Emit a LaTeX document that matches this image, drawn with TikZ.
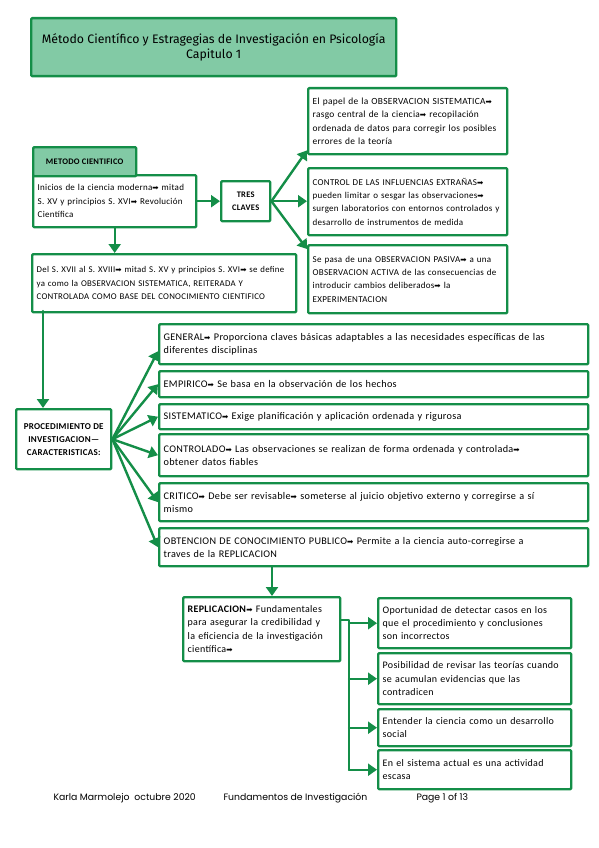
\documentclass[tikz,border=0pt]{standalone}
\usepackage{fontspec}
\setmainfont{Carlito}[LetterSpace=3]
\newfontfamily\titlef{Fira Sans}
\newfontfamily\footf{Poppins}
\newfontfamily\symf{DejaVu Sans}
\usetikzlibrary{arrows.meta}
\definecolor{verde}{RGB}{20,142,72}
\definecolor{verdeclaro}{RGB}{130,202,165}
\newcommand\flecha{{\symf\fontsize{7.5}{8}\selectfont ➡}}
\begin{document}
\begin{tikzpicture}[x=1pt, y=-1pt, font=\fontsize{9}{13.3}\selectfont, line join=round, line cap=round, >={Triangle[length=9pt,width=12pt]},
	caja/.style={draw=verde, line width=2.4pt, fill=white, rounded corners=1pt, anchor=north west, align=left, inner xsep=4.5pt, inner ysep=2pt},
	ancha/.style={caja, font=\fontsize{10.2}{13.3}\selectfont, minimum width=429, text width=420},
	grande/.style={caja, font=\fontsize{10}{13.3}\selectfont},
	flec/.style={draw=verde, line width=2.4pt, ->}]
	\useasboundingbox (0,0) rectangle (599,848);
	% titulo
	\node[caja, fill=verdeclaro, align=center, minimum width=365, minimum height=58, font=\titlef\fontsize{12.3}{15}\selectfont] (titulo) at (30,17) {Método Científico y Estragegias de Investigación en Psicología\\Capitulo 1};
	% metodo cientifico
	\node[caja, minimum width=163, minimum height=52, text width=154] (ini) at (32,174) {Inicios de la ciencia moderna\flecha{} mitad\\S. XV y principios S. XVI\flecha{} Revolución\\Científica};
	\node[caja, fill=verdeclaro, minimum width=103, minimum height=29, font=\bfseries\fontsize{8.5}{13}\selectfont] (mc) at (32,146) {METODO CIENTIFICO};
	\node[caja, align=center, minimum width=49, minimum height=40, font=\bfseries\fontsize{8.5}{13}\selectfont] (tres) at (220,180) {TRES\\CLAVES};
	\node[caja, minimum width=199, minimum height=66, text width=190, font=\fontsize{9.4}{13.3}\selectfont] (k1) at (307,87) {El papel de la OBSERVACION SISTEMATICA\flecha\\rasgo central de la ciencia\flecha{} recopilación\\ordenada de datos para corregir los posibles\\errores de la teoría};
	\node[caja, minimum width=199, minimum height=67, text width=190] (k2) at (307,167) {CONTROL DE LAS INFLUENCIAS EXTRAÑAS\flecha\\pueden limitar o sesgar las observaciones\flecha\\surgen laboratorios con entornos controlados y\\desarrollo de instrumentos de medida};
	\node[caja, minimum width=199, minimum height=68, text width=190] (k3) at (307,244) {Se pasa de una OBSERVACION PASIVA\flecha{} a una\\OBSERVACION ACTIVA de las consecuencias de\\introducir cambios deliberados\flecha{} la\\EXPERIMENTACION};
	\node[caja, minimum width=264, minimum height=58, text width=255, font=\fontsize{8.8}{13.3}\selectfont] (del) at (31,253) {Del S. XVII al S. XVIII\flecha{} mitad S. XV y principios S. XVI\flecha{} se define\\ya como la OBSERVACION SISTEMATICA, REITERADA Y\\CONTROLADA COMO BASE DEL CONOCIMIENTO CIENTIFICO};
	% procedimiento
	\node[caja, align=center, minimum width=95, minimum height=60, font=\bfseries\fontsize{9}{13}\selectfont] (proc) at (15,408) {PROCEDIMIENTO DE\\INVESTIGACION—\\CARACTERISTICAS:};
	\node[ancha, minimum height=40] (c1) at (158,323) {GENERAL\flecha{} Proporciona claves básicas adaptables a las necesidades específicas de las\\diferentes disciplinas};
	\node[ancha, minimum height=26] (c2) at (158,370) {EMPIRICO\flecha{} Se basa en la observación de los hechos};
	\node[ancha, minimum height=25] (c3) at (158,403) {SISTEMATICO\flecha{} Exige planificación y aplicación ordenada y rigurosa};
	\node[ancha, minimum height=42] (c4) at (158,433) {CONTROLADO\flecha{} Las observaciones se realizan de forma ordenada y controlada\flecha\\obtener datos fiables};
	\node[ancha, minimum height=38] (c5) at (158,482) {CRITICO\flecha{} Debe ser revisable\flecha{} someterse al juicio objetivo externo y corregirse a sí\\mismo};
	\node[ancha, minimum height=38] (c6) at (158,527) {OBTENCION DE CONOCIMIENTO PUBLICO\flecha{} Permite a la ciencia auto-corregirse a\\traves de la REPLICACION};
	% replicacion
	\node[grande, minimum width=157, minimum height=64, text width=148] (rep) at (182,596) {\textbf{REPLICACION}\flecha{} Fundamentales\\para asegurar la credibilidad y\\la eficiencia de la investigación\\científica\flecha};
	\node[grande, minimum width=193, minimum height=50, text width=184] (r1) at (377,597) {Oportunidad de detectar casos en los\\que el procedimiento y conclusiones\\son incorrectos};
	\node[grande, minimum width=193, minimum height=51, text width=184] (r2) at (377,652) {Posibilidad de revisar las teorías cuando\\se acumulan evidencias que las\\contradicen};
	\node[grande, minimum width=193, minimum height=37, text width=184] (r3) at (377,708) {Entender la ciencia como un desarrollo\\social};
	\node[grande, minimum width=193, minimum height=39, text width=184] (r4) at (377,749) {En el sistema actual es una actividad\\escasa};
	% conectores
	\draw[flec] (ini.east) -- (tres.west);
	\draw[flec] (tres.east) -- ([yshift=5pt]k1.south west);
	\draw[flec] (tres.east) -- (k2.west |- tres.east);
	\draw[flec] (tres.east) -- ([yshift=-5pt]k3.north west);
	\draw[flec] (ini.south) -- (ini.south |- del.north);
	\coordinate (bajada) at (43,311);
	\draw[flec] (bajada) -- (bajada |- proc.north);
	\draw[flec] (proc.east) -- ([yshift=-7pt]c1.west);
	\foreach \n in {c2,c3,c4,c5,c6}{\draw[flec] (proc.east) -- (\n.west);}
	\coordinate (rtop) at (272,596);
	\draw[flec] (c6.south -| rtop) -- (rtop);
	\coordinate (tronco) at (349,620);
	\draw[verde, line width=2.4pt] (rep.east |- tronco) -- (tronco) -- (tronco |- r4.west);
	\foreach \n in {r1,r2,r3,r4}{\draw[flec] (tronco |- \n.west) -- (\n.west);}
	% pie
	\node[anchor=west, font=\footf\fontsize{9.3}{11}\selectfont] (pie1) at (50,798) {Karla Marmolejo\ \ octubre 2020};
	\node[anchor=west, font=\footf\fontsize{9.3}{11}\selectfont] (pie2) at (220,798) {Fundamentos de Investigación};
	\node[anchor=west, font=\footf\fontsize{9.3}{11}\selectfont] (pie3) at (413,798) {Page 1 of 13};
\end{tikzpicture}
\end{document}
